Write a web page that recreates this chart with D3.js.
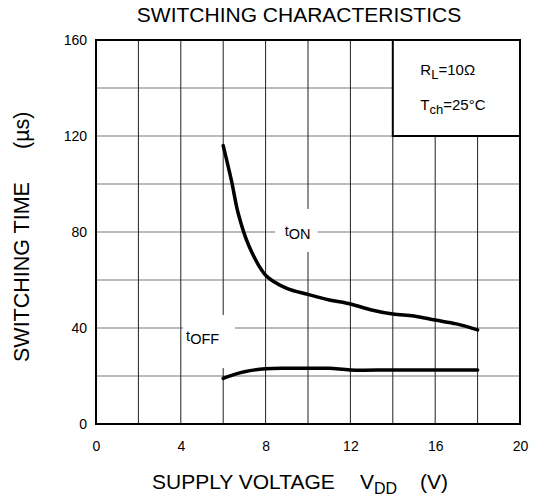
<!DOCTYPE html>
<html>
<head>
<meta charset="utf-8">
<script src="https://cdn.jsdelivr.net/npm/d3@7"></script>
<style>
  body { margin: 0; background: #fff; }
  text { font-family: "Liberation Sans", Arial, sans-serif; fill: #000; }
</style>
</head>
<body>
<script>
// Data
const vddOn = [6, 6.4, 6.7, 7.2, 8, 9, 10, 11, 12, 13, 14, 15, 16, 17, 18];
const tOn = [116, 101, 88, 74.5, 62, 56.5, 54, 51.7, 50, 47.5, 45.8, 45, 43.3, 41.7, 39.2];

const vddOff = [6, 6.5, 7, 8, 9, 10, 11, 12, 14, 16, 18];
const tOff = [19, 20.6, 21.8, 23, 23.2, 23.2, 23.2, 22.5, 22.5, 22.5, 22.5];

const xTicks = [0, 4, 8, 12, 16, 20];
const yTicks = [0, 40, 80, 120, 160];
const xGrid = d3.range(0, 21, 2);
const yGrid = d3.range(0, 161, 20);

// Chart config
const width = 534;
const height = 497;
const margin = { left: 96, right: 14, top: 40, bottom: 73 };

const svg = d3.select("body")
    .append("svg")
    .attr("width", width)
    .attr("height", height);

const xScale = d3.scaleLinear()
    .domain([0, 20])
    .range([margin.left, width - margin.right]);

const yScale = d3.scaleLinear()
    .domain([0, 160])
    .range([height - margin.bottom, margin.top]);

// grid
svg.append("g")
    .selectAll("line")
    .data(yGrid)
    .enter()
    .append("line")
    .attr("x1", xScale(0))
    .attr("x2", xScale(20))
    .attr("y1", d => yScale(d))
    .attr("y2", d => yScale(d))
    .attr("stroke", "#777")
    .attr("stroke-width", 1.2);

svg.append("g")
    .selectAll("line")
    .data(xGrid)
    .enter()
    .append("line")
    .attr("x1", d => xScale(d))
    .attr("x2", d => xScale(d))
    .attr("y1", yScale(0))
    .attr("y2", yScale(160))
    .attr("stroke", "#222")
    .attr("stroke-width", 1);

// white gaps behind the curve labels
function hueco(x0, x1, y0, y1) {
    svg.append("rect")
        .attr("x", xScale(x0))
        .attr("y", yScale(y1))
        .attr("width", xScale(x1) - xScale(x0))
        .attr("height", yScale(y0) - yScale(y1))
        .attr("fill", "#fff");
}
hueco(8.45, 10.45, 71.7, 89.6);
hueco(4.1, 6.55, 23.3, 45.4);

// legend box (conditions)
svg.append("rect")
    .attr("x", xScale(14))
    .attr("y", yScale(160))
    .attr("width", xScale(20) - xScale(14))
    .attr("height", yScale(120) - yScale(160))
    .attr("fill", "#fff")
    .attr("stroke", "#000")
    .attr("stroke-width", 2);

// plot border
svg.append("rect")
    .attr("x", xScale(0))
    .attr("y", yScale(160))
    .attr("width", xScale(20) - xScale(0))
    .attr("height", yScale(0) - yScale(160))
    .attr("fill", "none")
    .attr("stroke", "#000")
    .attr("stroke-width", 2);

// axes (labels only, the grid does the lines)
const ejeX = d3.axisBottom(xScale).tickValues(xTicks).tickSize(0).tickPadding(17);
svg.append("g")
    .attr("transform", "translate(0," + yScale(0) + ")")
    .call(ejeX)
    .call(g => g.select(".domain").remove())
    .selectAll("text")
    .attr("font-size", 14)
    .style("font-family", "Liberation Sans, Arial, sans-serif");

const ejeY = d3.axisLeft(yScale).tickValues(yTicks).tickSize(0).tickPadding(9);
svg.append("g")
    .attr("transform", "translate(" + xScale(0) + ",0)")
    .call(ejeY)
    .call(g => g.select(".domain").remove())
    .selectAll("text")
    .attr("font-size", 14)
    .style("font-family", "Liberation Sans, Arial, sans-serif");

// curves
const linea = d3.line()
    .x(d => xScale(d[0]))
    .y(d => yScale(d[1]))
    .curve(d3.curveCatmullRom);

svg.append("path")
    .datum(d3.zip(vddOn, tOn))
    .attr("d", linea)
    .attr("fill", "none")
    .attr("stroke", "#000")
    .attr("stroke-width", 3.5)
    .attr("stroke-linecap", "round");

svg.append("path")
    .datum(d3.zip(vddOff, tOff))
    .attr("d", linea)
    .attr("fill", "none")
    .attr("stroke", "#000")
    .attr("stroke-width", 3.5)
    .attr("stroke-linecap", "round");

// curve labels
function etiqueta(x, y, principal, sub) {
    const t = svg.append("text")
        .attr("x", xScale(x))
        .attr("y", yScale(y))
        .attr("font-size", 14.5);
    t.append("tspan").text(principal);
    t.append("tspan").attr("dy", 3).text(sub);
}
etiqueta(8.9, 78.3, "t", "ON");
etiqueta(4.25, 34.6, "t", "OFF");

// legend text
const leg1 = svg.append("text")
    .attr("x", xScale(15.3))
    .attr("y", yScale(145.5))
    .attr("font-size", 15);
leg1.append("tspan").text("R");
leg1.append("tspan").attr("dy", 4).attr("font-size", 13).text("L");
leg1.append("tspan").attr("dy", -4).text("=10Ω");

const leg2 = svg.append("text")
    .attr("x", xScale(15.3))
    .attr("y", yScale(131))
    .attr("font-size", 15);
leg2.append("tspan").text("T");
leg2.append("tspan").attr("dy", 4).attr("font-size", 13).text("ch");
leg2.append("tspan").attr("dy", -4).text("=25°C");

// titles
svg.append("text")
    .attr("x", 299)
    .attr("y", 22)
    .attr("text-anchor", "middle")
    .attr("font-size", 21)
    .text("SWITCHING CHARACTERISTICS");

const tx = svg.append("text")
    .attr("x", 152)
    .attr("y", 489)
    .attr("font-size", 21);
tx.append("tspan").text("SUPPLY VOLTAGE");
tx.append("tspan").attr("x", 360).text("V");
tx.append("tspan").attr("dy", 5).attr("font-size", 16).text("DD");
tx.append("tspan").attr("x", 420).attr("dy", -5).text("(V)");

const ty = svg.append("text")
    .attr("transform", "translate(29,0) rotate(-90)")
    .attr("x", -362)
    .attr("y", 0)
    .attr("font-size", 21.5);
ty.append("tspan").text("SWITCHING TIME");
ty.append("tspan").attr("x", -149).text("(µs)");
</script>
</body>
</html>
